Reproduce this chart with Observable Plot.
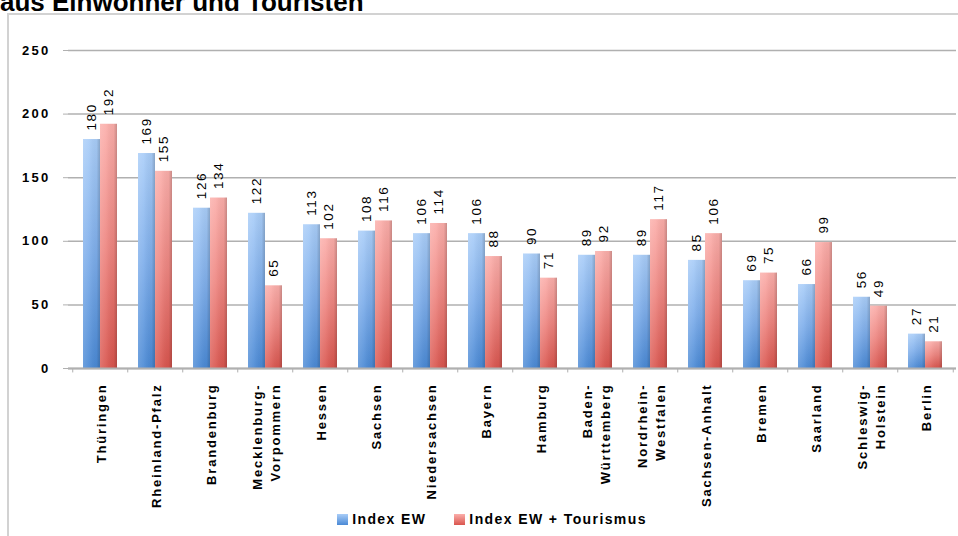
<!DOCTYPE html>
<html>
<head>
<meta charset="utf-8">
<script src="https://cdn.jsdelivr.net/npm/d3@7"></script>
<script src="https://cdn.jsdelivr.net/npm/@observablehq/plot@0.6"></script>
<style>
  html, body { margin: 0; padding: 0; background: #fff; }
  body { width: 958px; height: 536px; overflow: hidden; position: relative; font-family: "Liberation Sans", Arial, sans-serif; }
  #title { position: absolute; left: 0; top: -11px; font-size: 26px; line-height: 26px; font-weight: bold; color: #000; white-space: nowrap; }
  #box { position: absolute; left: 7px; top: 13px; width: 980px; height: 560px; border: 2px solid #d2d2d2; box-sizing: border-box; }
  #chart { position: absolute; left: 8px; top: 14px; }
  #chart svg { overflow: visible; }
  #chart svg text { letter-spacing: 1.6px; }
  #chart g[aria-label="text"]:last-of-type text { letter-spacing: 1.8px; }
  #chart g[aria-label="y-axis tick label"] text { font-weight: bold; letter-spacing: 2.3px; }
  #legend { position: absolute; left: 0; width: 958px; top: 511px; display: flex; justify-content: center; gap: 28px; font-size: 14px; font-weight: bold; letter-spacing: 1.4px; color: #000; padding-left: 26px; box-sizing: border-box; }
  .li { display: flex; align-items: center; }
  .sw { width: 11px; height: 11px; margin-right: 4px; }
</style>
</head>
<body>
<div id="title">aus Einwohner und Touristen</div>
<div id="box"></div>
<div id="chart"></div>
<div id="legend"></div>
<script>
const states = ["Thüringen", "Rheinland-Pfalz", "Brandenburg", "Mecklenburg-\nVorpommern", "Hessen", "Sachsen", "Niedersachsen", "Bayern", "Hamburg", "Baden-\nWürttemberg", "Nordrhein-\nWestfalen", "Sachsen-Anhalt", "Bremen", "Saarland", "Schleswig-\nHolstein", "Berlin"];
const seriesNames = ["Index EW", "Index EW + Tourismus"];
const indexEW = [180, 169, 126, 122, 113, 108, 106, 106, 90, 89, 89, 85, 69, 66, 56, 27];
const indexEWTourismus = [192, 155, 134, 65, 102, 116, 114, 88, 71, 92, 117, 106, 75, 99, 49, 21];
const yTicks = [0, 50, 100, 150, 200, 250];

const rowsEW = states.map((s, i) => ({state: s, series: seriesNames[0], value: indexEW[i]}));
const rowsT = states.map((s, i) => ({state: s, series: seriesNames[1], value: indexEWTourismus[i]}));

const W = 950, H = 494, ML = 60, MR = 2, MT = 36, MB = 140;
const pIn = 0.387, pOut = 0.19;
const step = (W - ML - MR) / (states.length - pIn + 2 * pOut);
const half = step * (1 - pIn) / 2;
const grid = "#b0b0b0";

const plot = Plot.plot({
  width: W, height: H,
  marginLeft: ML, marginRight: MR, marginTop: MT, marginBottom: MB,
  style: {fontFamily: "'Liberation Sans', Arial, sans-serif", fontSize: "13px", color: "#000", background: "transparent"},
  x: {type: "band", domain: states, paddingInner: pIn, paddingOuter: pOut, axis: null},
  y: {domain: [0, 250], ticks: yTicks, label: null},
  marks: [
    Plot.gridY(yTicks, {stroke: grid, strokeOpacity: 1, strokeWidth: 1.5}),
    Plot.axisY(yTicks, {tickSize: 5, tickPadding: 13, stroke: grid, fontSize: 13, label: null}),
    Plot.ruleX([0], {frameAnchor: "left", stroke: grid, strokeWidth: 1.5}),
    Plot.ruleX(states, {x: d => d, dx: -step / 2, y1: 0, y2: -3.5, stroke: grid, strokeWidth: 1}),
    Plot.ruleX([states[states.length - 1]], {x: d => d, dx: step / 2, y1: 0, y2: -3.5, stroke: grid, strokeWidth: 1}),
    Plot.barY(rowsEW, {x: "state", y: "value", fill: "url(#gBlue)", insetRight: half}),
    Plot.barY(rowsEW, {x: "state", y: "value", fill: "url(#gShade)", insetRight: half}),
    Plot.barY(rowsT, {x: "state", y: "value", fill: "url(#gRed)", insetLeft: half}),
    Plot.barY(rowsT, {x: "state", y: "value", fill: "url(#gShade)", insetLeft: half}),
    Plot.ruleY([0], {stroke: grid, strokeWidth: 2}),
    Plot.text(rowsEW, {x: "state", y: "value", text: d => String(d.value), rotate: -90, textAnchor: "start", dx: -half / 2, dy: -9, fontSize: 13.5, fill: "#000"}),
    Plot.text(rowsT, {x: "state", y: "value", text: d => String(d.value), rotate: -90, textAnchor: "start", dx: half / 2, dy: -9, fontSize: 13.5, fill: "#000"}),
    Plot.text(states, {x: d => d, frameAnchor: "bottom", dy: 15, rotate: -90, textAnchor: "end", lineAnchor: "middle", lineHeight: 1.4, fontSize: 13, fontWeight: "bold", fill: "#000"})
  ]
});

const defs = `
<defs>
  <linearGradient id="gBlue" x1="0" y1="0" x2="0" y2="1">
    <stop offset="0" stop-color="#a9cdf8"/>
    <stop offset="0.5" stop-color="#7eaeeb"/>
    <stop offset="1" stop-color="#4a89d5"/>
  </linearGradient>
  <linearGradient id="gRed" x1="0" y1="0" x2="0" y2="1">
    <stop offset="0" stop-color="#fbaeaa"/>
    <stop offset="0.5" stop-color="#ee8580"/>
    <stop offset="1" stop-color="#d9554e"/>
  </linearGradient>
  <linearGradient id="gShade" x1="0" y1="0" x2="1" y2="0">
    <stop offset="0" stop-color="#ffffff" stop-opacity="0.18"/>
    <stop offset="0.35" stop-color="#ffffff" stop-opacity="0.08"/>
    <stop offset="0.8" stop-color="#000000" stop-opacity="0.04"/>
    <stop offset="1" stop-color="#000000" stop-opacity="0.2"/>
  </linearGradient>
</defs>`;
plot.insertAdjacentHTML("afterbegin", defs);
document.getElementById("chart").appendChild(plot);

const legend = document.getElementById("legend");
const swatches = ["linear-gradient(#a9cdf8, #4a89d5)", "linear-gradient(#fbaeaa, #d9554e)"];
seriesNames.forEach((name, i) => {
  const item = document.createElement("div");
  item.className = "li";
  const sw = document.createElement("span");
  sw.className = "sw";
  sw.style.background = swatches[i];
  item.appendChild(sw);
  item.appendChild(document.createTextNode(name));
  legend.appendChild(item);
});
</script>
</body>
</html>
